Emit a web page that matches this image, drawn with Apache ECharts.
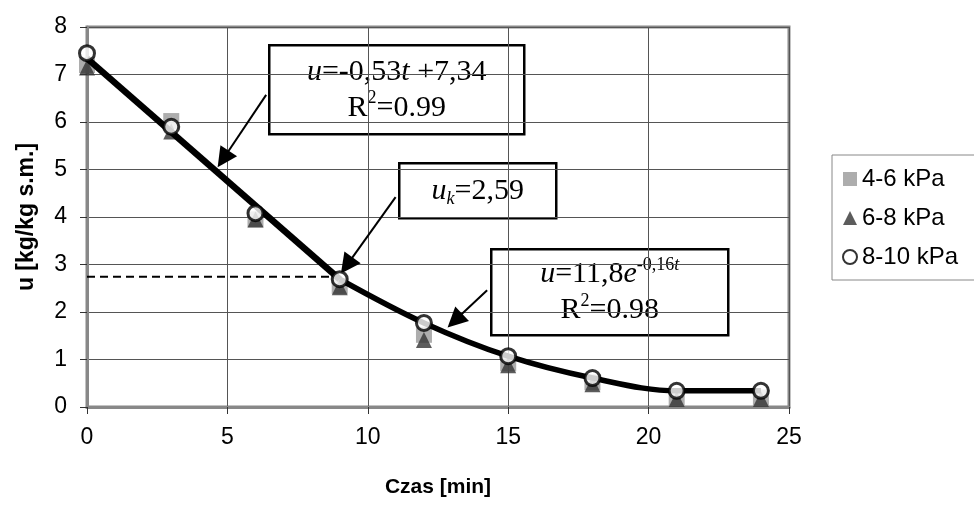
<!DOCTYPE html>
<html>
<head>
<meta charset="utf-8">
<script src="https://cdn.jsdelivr.net/npm/echarts@6/dist/echarts.min.js"></script>
<style>
  html, body { margin: 0; padding: 0; background: #fff; }
  #chart { width: 974px; height: 507px; }
</style>
</head>
<body>
<div id="chart"></div>
<script>
// czas suszenia [min]
const times = [0, 3, 6, 9, 12, 15, 18, 21, 24];
// zawartość wody u [kg/kg s.m.]
const u46 = [7.2, 6.02, 3.95, 2.55, 1.52, 0.92, 0.52, 0.2, 0.2];
const u68 = [7.15, 5.8, 3.95, 2.52, 1.41, 0.88, 0.48, 0.17, 0.17];
const u810 = [7.45, 5.9, 4.08, 2.69, 1.77, 1.07, 0.61, 0.34, 0.34];
const seriesNames = ['4-6 kPa', '6-8 kPa', '8-10 kPa'];

// krzywa dopasowania
const linFitT = [0, 9];
const linFitU = [7.34, 2.69];
const expFitT = [9, 12, 15, 18, 21, 24];
const expFitU = [2.69, 1.77, 1.07, 0.61, 0.34, 0.34];

// krytyczna zawartość wody
const ukT = [0, 8.8];
const ukU = [2.74, 2.74];

const xTicks = [0, 5, 10, 15, 20, 25];
const yTicks = [0, 1, 2, 3, 4, 5, 6, 7, 8];

const pairs = (xs, ys) => xs.map((x, i) => [x, ys[i]]);

const SERIF = '"Liberation Serif", "Times New Roman", serif';
const SANS = '"Liberation Sans", Arial, sans-serif';

const rich = {
    n: { fontFamily: SERIF, fontSize: 30, lineHeight: 36, fill: '#000' },
    i: { fontFamily: SERIF, fontSize: 30, lineHeight: 36, fontStyle: 'italic', fill: '#000' },
    sup: { fontFamily: SERIF, fontSize: 18, lineHeight: 16, verticalAlign: 'top', fill: '#000' },
    supi: { fontFamily: SERIF, fontSize: 18, lineHeight: 16, verticalAlign: 'top', fontStyle: 'italic', fill: '#000' },
    sub: { fontFamily: SERIF, fontSize: 18, lineHeight: 20, verticalAlign: 'bottom', fontStyle: 'italic', fill: '#000' }
};

function box(left, top, width, height, text) {
    return {
        type: 'group',
        left: left,
        top: top,
        z: 100,
        children: [
            {
                type: 'rect',
                shape: { x: 0, y: 0, width: width, height: height },
                style: { fill: '#fff', stroke: '#000', lineWidth: 2.5 }
            },
            {
                type: 'text',
                x: width / 2,
                y: height / 2,
                style: { text: text, rich: rich, align: 'center', verticalAlign: 'middle' }
            }
        ]
    };
}

const chart = echarts.init(document.getElementById('chart'), null, { renderer: 'canvas' });

const option = {
    animation: false,
    backgroundColor: '#fff',
    grid: {
        left: 87, right: 185, top: 27, bottom: 100,
        show: true, borderColor: '#888', borderWidth: 3, backgroundColor: 'transparent'
    },
    legend: {
        orient: 'vertical',
        left: 832,
        top: 155,
        padding: [12, 40, 11, 10],
        itemGap: 15,
        itemWidth: 14,
        itemHeight: 14,
        borderColor: '#888',
        borderWidth: 1,
        textStyle: { fontFamily: SANS, fontSize: 24, color: '#000' },
        data: [
            { name: seriesNames[0], icon: 'rect' },
            { name: seriesNames[1], icon: 'triangle' },
            { name: seriesNames[2], icon: 'circle' }
        ]
    },
    xAxis: {
        type: 'value',
        min: xTicks[0],
        max: xTicks[xTicks.length - 1],
        interval: 5,
        name: 'Czas [min]',
        nameLocation: 'middle',
        nameGap: 70,
        nameTextStyle: { fontFamily: SANS, fontSize: 21, fontWeight: 'bold', color: '#000' },
        axisLine: { lineStyle: { color: '#888', width: 3 } },
        axisTick: { show: true, inside: false, length: 7, lineStyle: { color: '#333', width: 1 } },
        axisLabel: { fontFamily: SANS, fontSize: 23, color: '#000', margin: 19 },
        splitLine: { show: true, lineStyle: { color: '#555', width: 1 } }
    },
    yAxis: {
        type: 'value',
        min: yTicks[0],
        max: yTicks[yTicks.length - 1],
        interval: 1,
        name: 'u [kg/kg s.m.]',
        nameLocation: 'middle',
        nameGap: 49,
        nameTextStyle: { fontFamily: SANS, fontSize: 23, fontWeight: 'bold', color: '#000' },
        axisLine: { show: true, lineStyle: { color: '#888', width: 3 } },
        axisTick: { show: true, inside: false, length: 7, lineStyle: { color: '#333', width: 1 } },
        axisLabel: { fontFamily: SANS, fontSize: 23, color: '#000', margin: 20 },
        splitLine: { show: true, lineStyle: { color: '#555', width: 1 } }
    },
    series: [
        {
            name: seriesNames[0],
            type: 'scatter',
            symbol: 'rect',
            symbolSize: 16,
            itemStyle: { color: '#999' },
            z: 2,
            data: pairs(times, u46)
        },
        {
            name: seriesNames[1],
            type: 'scatter',
            symbol: 'triangle',
            symbolSize: 16,
            itemStyle: { color: '#333' },
            z: 3,
            data: pairs(times, u68)
        },
        {
            name: 'lin',
            type: 'line',
            showSymbol: false,
            symbol: 'none',
            lineStyle: { color: '#000', width: 6.5 },
            z: 4,
            data: pairs(linFitT, linFitU)
        },
        {
            name: 'exp',
            type: 'line',
            showSymbol: false,
            symbol: 'none',
            smooth: 0.35,
            lineStyle: { color: '#000', width: 5.5 },
            z: 4,
            data: pairs(expFitT, expFitU)
        },
        {
            name: 'uk',
            type: 'line',
            showSymbol: false,
            symbol: 'none',
            lineStyle: { color: '#000', width: 2, type: [8, 5] },
            z: 4,
            data: pairs(ukT, ukU),
            markLine: {
                silent: true,
                symbol: ['none', 'triangle'],
                symbolSize: 20,
                label: { show: false },
                lineStyle: { color: '#000', width: 2, type: 'solid' },
                data: [
                    [{ coord: [6.38, 6.57] }, { coord: [4.85, 5.22] }],
                    [{ coord: [10.99, 4.42] }, { coord: [9.25, 2.98] }],
                    [{ coord: [14.25, 2.46] }, { coord: [13.1, 1.82] }]
                ]
            }
        },
        {
            name: seriesNames[2],
            type: 'scatter',
            symbol: 'circle',
            symbolSize: 15,
            itemStyle: { color: '#fff', borderColor: '#000', borderWidth: 3 },
            z: 5,
            data: pairs(times, u810)
        }
    ],
    graphic: [
        box(268, 44, 255, 89, '{i|u}{n|=-0,53}{i|t}{n| +7,34}\n{n|R}{sup|2}{n|=0.99}'),
        box(398, 162, 157, 55, '{i|u}{sub|k}{n|=2,59}'),
        box(490, 248, 237, 86, '{i|u}{n|=11,8}{i|e}{sup|-0,16}{supi|t}\n{n|R}{sup|2}{n|=0.98}')
    ]
};

chart.setOption(option);
</script>
</body>
</html>
